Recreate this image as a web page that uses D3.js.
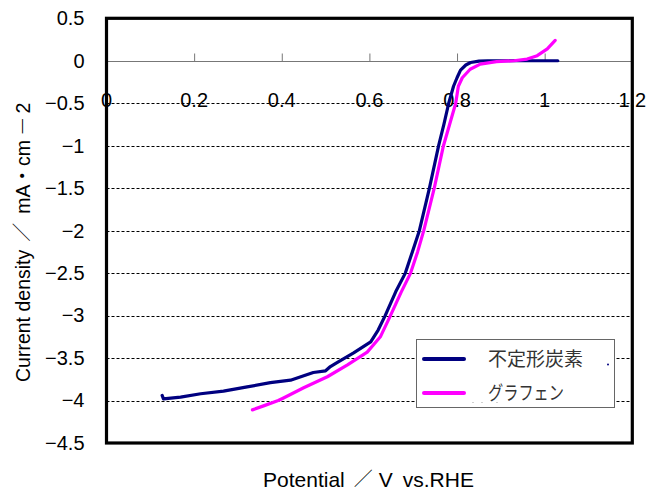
<!DOCTYPE html>
<html>
<head>
<meta charset="utf-8">
<script src="https://cdn.jsdelivr.net/npm/d3@7"></script>
<style>
html,body{margin:0;padding:0;background:#fff;}
svg{display:block;}
</style>
</head>
<body>
<svg id="chart" width="649" height="492"></svg>
<script>
// ---- data ----
const seriesNames = ["不定形炭素", "グラフェン"];
const seriesColors = ["#000080", "#FF00FF"];
const xTicks = [0, 0.2, 0.4, 0.6, 0.8, 1, 1.2];
const yTicks = [0.5, 0, -0.5, -1, -1.5, -2, -2.5, -3, -3.5, -4, -4.5];
const amorphousX = [0.127,0.13,0.169,0.215,0.267,0.321,0.374,0.42,0.472,0.50,0.511,0.527,0.564,0.603,0.62,0.636,0.66,0.682,0.698,0.714,0.737,0.758,0.77,0.781,0.792,0.80,0.808,0.82,0.831,0.85,0.87,0.95,1.03];
const amorphousY = [-3.94,-3.98,-3.96,-3.92,-3.89,-3.84,-3.79,-3.76,-3.67,-3.65,-3.6,-3.55,-3.44,-3.31,-3.17,-3.0,-2.72,-2.5,-2.25,-2.0,-1.5,-1.0,-0.75,-0.5,-0.3,-0.2,-0.11,-0.05,-0.02,-0.005,0,0,0];
const grapheneX = [0.333,0.36,0.392,0.404,0.45,0.504,0.55,0.595,0.625,0.648,0.672,0.694,0.71,0.724,0.748,0.769,0.783,0.797,0.803,0.812,0.83,0.853,0.89,0.93,0.96,0.983,1.006,1.024];
const grapheneY = [-4.11,-4.06,-4.0,-3.97,-3.85,-3.72,-3.58,-3.43,-3.25,-3.0,-2.73,-2.5,-2.25,-2.0,-1.5,-1.0,-0.75,-0.5,-0.3,-0.2,-0.1,-0.04,-0.01,0.0,0.02,0.06,0.14,0.24];

// ---- layout ----
const svg = d3.select("#chart");
const L = 106.5, R = 632.3, T = 18.3, B = 443;
const x = d3.scaleLinear().domain([0, 1.2]).range([L, R]);
const y = d3.scaleLinear().domain([-4.5, 0.5]).range([B, T]);
const font = "'Liberation Sans', Arial, sans-serif";
const cjk = "'Noto Sans CJK JP', sans-serif";

// plot background
svg.append("rect").attr("x", L).attr("y", T).attr("width", R - L).attr("height", B - T).attr("fill", "#fff");

// dashed gridlines
const gridVals = yTicks.filter(v => v < 0 && v > -4.5);
svg.append("g").selectAll("line").data(gridVals).join("line")
  .attr("x1", L).attr("x2", R)
  .attr("y1", d => Math.round(y(d)) + 0.5).attr("y2", d => Math.round(y(d)) + 0.5)
  .attr("stroke", "#000").attr("stroke-width", 1).attr("stroke-dasharray", "3,2");

// x axis at y=0 (ticks upward, labels drawn below)
const xAxis = d3.axisTop(x).tickValues(xTicks).tickSize(8).tickFormat("");
const gx = svg.append("g").attr("transform", `translate(0,${Math.round(y(0)) + 0.5})`).call(xAxis);
gx.select(".domain").attr("stroke", "#777").attr("d", `M${L},0H${R}`);
gx.selectAll(".tick line").attr("stroke", "#777");
gx.selectAll(".tick").filter(d => d === 0 || d === 1.2).select("line").remove();

svg.append("g").selectAll("text").data(xTicks).join("text")
  .attr("x", d => x(d)).attr("y", y(-0.5) + 4)
  .attr("text-anchor", "middle")
  .attr("font-family", font).attr("font-size", 20).attr("fill", "#000")
  .text(d => d3.format("")(d));

// y axis labels
const yAxis = d3.axisLeft(y).tickValues(yTicks).tickSize(0).tickPadding(22)
  .tickFormat(d => d3.format("")(d).replace("-", "−"));
const gy = svg.append("g").attr("transform", `translate(${L},0)`).call(yAxis);
gy.select(".domain").remove();
gy.selectAll("text").attr("font-family", font).attr("font-size", 20).attr("fill", "#000");

// series lines
const line = d3.line().x(d => x(d[0])).y(d => y(d[1]));
const seriesData = [
  d3.zip(amorphousX, amorphousY),
  d3.zip(grapheneX, grapheneY)
];
seriesData.forEach((pts, i) => {
  svg.append("path").datum(pts)
    .attr("d", line)
    .attr("fill", "none")
    .attr("stroke", seriesColors[i])
    .attr("stroke-width", 3.2)
    .attr("stroke-linejoin", "round")
    .attr("stroke-linecap", "round");
});

// frame
svg.append("rect").attr("x", L).attr("y", T).attr("width", R - L).attr("height", B - T)
  .attr("fill", "none").attr("stroke", "#000").attr("stroke-width", 3.2);

// legend
const lg = svg.append("g");
lg.append("rect").attr("x", 416.5).attr("y", 339.5).attr("width", 198).attr("height", 68)
  .attr("fill", "#fff").attr("stroke", "#666").attr("stroke-width", 1);
seriesNames.forEach((name, i) => {
  const yy = 359 + i * 34;
  lg.append("line").attr("x1", 424).attr("x2", 464).attr("y1", yy).attr("y2", yy)
    .attr("stroke", seriesColors[i]).attr("stroke-width", 4).attr("stroke-linecap", "round");
  const t = lg.append("text").attr("x", 488).attr("y", yy + 7)
    .attr("font-family", cjk).attr("font-size", 19)
    .attr("fill", "#333").text(name);
  if (i === 1) t.attr("textLength", 76).attr("lengthAdjust", "spacingAndGlyphs");
});
lg.append("circle").attr("cx", 608).attr("cy", 364.5).attr("r", 1).attr("fill", "#000080");
[473, 482, 497].forEach(cx => lg.append("circle").attr("cx", cx).attr("cy", 402.5).attr("r", 0.6).attr("fill", "#999"));

// axis titles
const xt = svg.append("text").attr("x", 263).attr("y", 487)
  .attr("font-family", font).attr("font-size", 21).attr("fill", "#000");
xt.append("tspan").text("Potential");
xt.append("tspan").attr("dx", 9).attr("dy", -1).attr("font-family", cjk).attr("font-size", 19).attr("font-weight", 300).text("／");
xt.append("tspan").attr("dx", 6).attr("dy", 1).text("V");
xt.append("tspan").attr("dx", 10).text("vs.RHE");

const yt = svg.append("text").attr("transform", "translate(30,382) rotate(-90)")
  .attr("font-family", font).attr("font-size", 19.5).attr("fill", "#000");
yt.append("tspan").text("Current density");
yt.append("tspan").attr("dx", 8).attr("dy", -1).attr("font-family", cjk).attr("font-size", 19).attr("font-weight", 300).text("／");
yt.append("tspan").attr("dx", 9).attr("dy", 1).text("mA");
yt.append("tspan").attr("dx", -1).attr("font-family", cjk).text("・");
yt.append("tspan").attr("dx", 0).text("cm");
yt.append("tspan").attr("dx", 4).attr("font-family", cjk).attr("font-weight", 300).text("－");
yt.append("tspan").attr("dx", 3).text("2");
</script>
</body>
</html>
